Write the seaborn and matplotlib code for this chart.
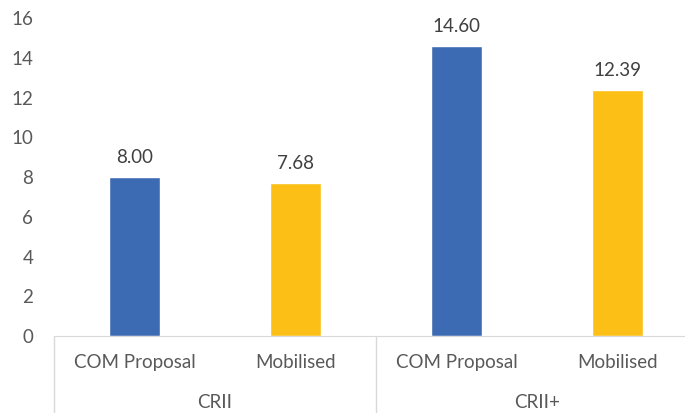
'''plot.py
Bar chart of COM Proposal vs Mobilised amounts under CRII and CRII+.
'''

import matplotlib.pyplot as plt
import matplotlib.transforms as mtransforms
import seaborn as sns
import pandas as pd

# Data
groups = ["CRII", "CRII", "CRII+", "CRII+"]
series = ["COM Proposal", "Mobilised", "COM Proposal", "Mobilised"]
values = [8.00, 7.68, 14.60, 12.39]
group_names = ["CRII", "CRII+"]

dat = pd.DataFrame({"group": groups, "series": series, "value": values})
dat["slot"] = dat["group"] + "|" + dat["series"]

# Style
sns.set_style("white")
plt.rcParams["font.family"] = ["Lato", "DejaVu Sans"]
TXT = "#595959"
FS = 13.5
palette = {"COM Proposal": "#3D6BB3", "Mobilised": "#FBBF15"}

fig = plt.figure(figsize=(6.85, 4.13), dpi=100)
ax = fig.add_axes([0.0788, 0.1864, 0.940, 0.770])

sns.barplot(data=dat, x="slot", y="value", hue="series", palette=palette,
            dodge=False, width=0.32, legend=False, ax=ax, saturation=1)

# Value labels
for cont in ax.containers:
    ax.bar_label(cont, fmt="%.2f", padding=8, fontsize=FS, color="#404040")

# Axes
ax.set_ylim(0, 16)
ax.set_yticks(range(0, 17, 2))
ax.set_xlim(-0.5, 3.5)
ax.set_xlabel("")
ax.set_ylabel("")
ax.set_xticks(range(len(series)))
ax.set_xticklabels(series)
ax.tick_params(axis="y", length=0, pad=15, labelsize=FS, labelcolor=TXT)
ax.tick_params(axis="x", length=0, pad=13, labelsize=FS, labelcolor=TXT)
for s in ["left", "right", "top"]:
    ax.spines[s].set_visible(False)
ax.spines["bottom"].set_color("#D9D9D9")

# Group labels and separators
trans = mtransforms.blended_transform_factory(ax.transData, ax.transAxes)
for i, name in enumerate(group_names):
    ax.text(2 * i + 0.5, -0.2075, name, transform=trans, ha="center",
            va="center", fontsize=FS, color=TXT)
for xpos in [-0.5, 1.5, 3.5]:
    ax.plot([xpos, xpos], [0, -0.3], transform=trans, color="#D9D9D9",
            lw=1, clip_on=False)

plt.savefig("out.png", dpi=100)
